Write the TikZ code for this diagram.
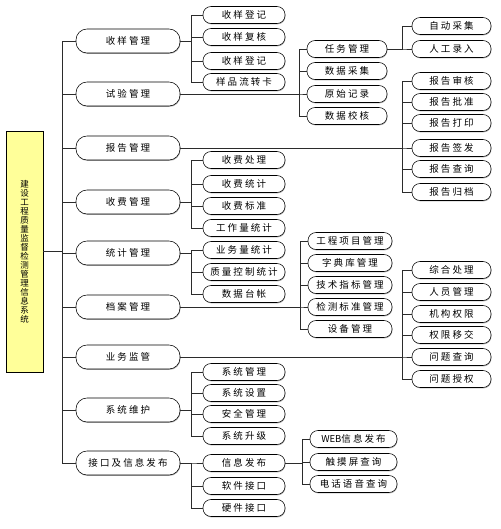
\documentclass[tikz,border=0pt]{standalone}
\usepackage{fontspec}
\setmainfont{Noto Sans CJK SC}[LetterSpace=22]
\usetikzlibrary{shadows}
\definecolor{cRaiz}{HTML}{FFFF99}
\definecolor{cLinea}{HTML}{2B2B2B}

\begin{document}
\begin{tikzpicture}[
    x=1pt, y=-1pt, font=\fontsize{9.5}{11}\selectfont,
    ln/.style={draw=cLinea, line width=0.6pt},
    caja/.style={draw=black, line width=0.55pt, fill=white, inner sep=0pt,
                 rounded corners=8pt,
                 drop shadow={shadow xshift=0.5pt, shadow yshift=-0.9pt, fill=black!60}},
    lvA/.style={caja, minimum width=104pt, minimum height=24pt, rounded corners=11pt},
    lvB/.style={caja, minimum width=82pt, minimum height=17pt},
    lvC/.style={caja, minimum height=17pt},
    root/.style={draw=black, line width=0.9pt, fill=cRaiz, inner sep=0pt,
                 minimum width=37pt, minimum height=241pt, align=center,
                 font=\fontsize{8.5}{9}\selectfont,
                 drop shadow={shadow xshift=0.6pt, shadow yshift=-0.6pt, fill=black!60}},
]
\useasboundingbox (0,0) rectangle (500,529);

% ===================== 系统根节点 =====================
\node[root] (root) at (24.5,251.5)
      {建\\设\\工\\程\\质\\量\\监\\督\\检\\测\\管\\理\\信\\息\\系\\统};

% ===================== 一级模块 =====================
\coordinate (tronco) at (62,0);
\foreach \t/\y/\n in {收样管理/41/sy, 试验管理/94/sh, 报告管理/148/bg,
                      收费管理/202/sf, 统计管理/253/tj, 档案管理/307/da,
                      业务监管/357/yw, 系统维护/410/wh, 接口及信息发布/463/jk} {
    \node[lvA] (\n) at (128,\y) {\t};
    \draw[ln] (root.east) -- (root.east -| tronco) |- (\n.west);
}

% ===================== 二级模块 (左列) =====================
\coordinate (busB) at (191,0);
\foreach \t/\y [count=\i] in {收样登记/15, 收样复核/37, 收样登记/61, 样品流转卡/82} {
    \node[lvB] (sy\i) at (244,\y) {\t};
    \draw[ln] (sy.east) -- (sy.east -| busB) |- (sy\i.west);
}
\foreach \t/\y [count=\i] in {收费处理/160, 收费统计/184, 收费标准/206, 工作量统计/228} {
    \node[lvB] (sf\i) at (244,\y) {\t};
    \draw[ln] (sf.east) -- (sf.east -| busB) |- (sf\i.west);
}
\foreach \t/\y [count=\i] in {业务量统计/250, 质量控制统计/272, 数据台帐/294} {
    \node[lvB] (tj\i) at (244,\y) {\t};
    \draw[ln] (tj.east) -- (tj.east -| busB) |- (tj\i.west);
}
\foreach \t/\y [count=\i] in {系统管理/372, 系统设置/393, 安全管理/414, 系统升级/436} {
    \node[lvB] (wh\i) at (244,\y) {\t};
    \draw[ln] (wh.east) -- (wh.east -| busB) |- (wh\i.west);
}
\foreach \t/\y [count=\i] in {信息发布/463, 软件接口/486, 硬件接口/508} {
    \node[lvB] (jk\i) at (244,\y) {\t};
    \draw[ln] (jk.east) -- (jk.east -| busB) |- (jk\i.west);
}

% ===================== 二级/三级模块 (中列) =====================
\coordinate (busC) at (299,0);
\foreach \t/\y [count=\i] in {任务管理/49, 数据采集/71, 原始记录/94, 数据校核/116} {
    \node[lvC, minimum width=80pt] (sh\i) at (347,\y) {\t};
    \draw[ln] (sh.east) -- (sh.east -| busC) |- (sh\i.west);
}
\coordinate (busD) at (300,0);
\foreach \t/\y [count=\i] in {工程项目管理/241, 字典库管理/263, 技术指标管理/285,
                              检测标准管理/307, 设备管理/329} {
    \node[lvC, minimum width=84pt] (da\i) at (350,\y) {\t};
    \draw[ln] (da.east) -- (da.east -| busD) |- (da\i.west);
}
\coordinate (busE) at (302,0);
\foreach \t/\y [count=\i] in {{\addfontfeature{LetterSpace=0}WEB}信息发布/439,
                              触摸屏查询/462, 电话语音查询/484} {
    \node[lvC, minimum width=87pt] (fb\i) at (353.5,\y) {\t};
    \draw[ln] (jk1.east) -- (jk1.east -| busE) |- (fb\i.west);
}

% ===================== 右列 =====================
\coordinate (busF) at (402,0);
\foreach \t/\y [count=\i] in {自动采集/26, 人工录入/49} {
    \node[lvC, minimum width=79pt] (rw\i) at (451.5,\y) {\t};
    \draw[ln] (sh1.east) -- (sh1.east -| busF) |- (rw\i.west);
}
\foreach \t/\y [count=\i] in {报告审核/81, 报告批准/102, 报告打印/123,
                              报告签发/148, 报告查询/169, 报告归档/192} {
    \node[lvC, minimum width=79pt] (bg\i) at (451.5,\y) {\t};
    \draw[ln] (bg.east) -- (bg.east -| busF) |- (bg\i.west);
}
\foreach \t/\y [count=\i] in {综合处理/270, 人员管理/292, 机构权限/314,
                              权限移交/335, 问题查询/357, 问题授权/379} {
    \node[lvC, minimum width=79pt] (yw\i) at (451.5,\y) {\t};
    \draw[ln] (yw.east) -- (yw.east -| busF) |- (yw\i.west);
}

\end{tikzpicture}
\end{document}
